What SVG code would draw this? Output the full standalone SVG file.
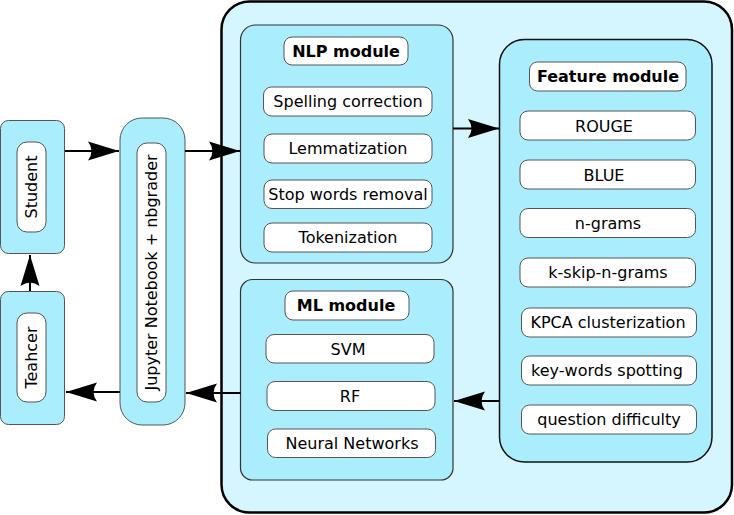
<svg xmlns="http://www.w3.org/2000/svg" width="734" height="515" viewBox="0 0 734 515">
<style>
.outer{fill:#d5f6ff;stroke:#000;stroke-width:2.5}
.mod{fill:#aaeefe;stroke:#333;stroke-width:1.2}
.blk{fill:#aaeefe;stroke:#555;stroke-width:1}
.item{fill:#fff;stroke:#555;stroke-width:1}
text{font-family:"DejaVu Sans",sans-serif;font-size:16px;fill:#000;text-anchor:middle;dominant-baseline:central}
.b{font-weight:bold}
.conn{stroke:#000;stroke-width:2;fill:none}
</style>
<defs>
<marker id="arr" markerUnits="userSpaceOnUse" markerWidth="34" markerHeight="22" viewBox="-33 -11 34 22" refX="0" refY="0" orient="auto" overflow="visible">
<path d="M0,0 L-31,-9.5 Q-24,0 -31,9.5 Z" fill="#000"/>
</marker>
</defs>
<g id="system"><rect class="outer" x="221.5" y="1.5" width="510.5" height="511" rx="28"/></g>
<g id="student">
<rect class="blk" x="0.5" y="120.5" width="64" height="133" rx="8"/>
<rect class="item" x="17" y="142" width="29" height="90" rx="10"/>
<text transform="translate(31.5,187) rotate(-90)">Student</text>
</g>
<g id="teacher">
<rect class="blk" x="0.5" y="291.5" width="64" height="133" rx="8"/>
<rect class="item" x="17" y="313" width="29" height="89" rx="10"/>
<text transform="translate(31.5,357.5) rotate(-90)">Teahcer</text>
</g>
<g id="jupyter">
<rect class="blk" x="120" y="118" width="65" height="307" rx="22"/>
<rect class="item" x="137" y="143" width="29" height="259" rx="10"/>
<text transform="translate(151.5,272.5) rotate(-90)">Jupyter Notebook + nbgrader</text>
</g>
<g id="nlp">
<rect class="mod" x="240.5" y="25" width="212.5" height="238" rx="15"/>
<rect class="item" x="284" y="37" width="124" height="28" rx="8"/>
<text class="b" x="346" y="51">NLP module</text>
<rect class="item" x="263.5" y="87" width="168.5" height="29" rx="8"/>
<text x="348" y="101">Spelling correction</text>
<rect class="item" x="264" y="134" width="168" height="29" rx="8"/>
<text x="348" y="148.5">Lemmatization</text>
<rect class="item" x="264" y="180" width="168" height="28.5" rx="8"/>
<text x="348" y="194">Stop words removal</text>
<rect class="item" x="264" y="223" width="168" height="29" rx="8"/>
<text x="348" y="237">Tokenization</text>
</g>
<g id="feature">
<rect class="mod" x="499.5" y="39.5" width="212.5" height="422.5" rx="25" style="stroke:#111;stroke-width:1.5"/>
<rect class="item" x="529.5" y="62" width="156.5" height="29" rx="8"/>
<text class="b" x="608" y="76">Feature module</text>
<rect class="item" x="520" y="111" width="175.5" height="29" rx="8"/>
<text x="604" y="126">ROUGE</text>
<rect class="item" x="520" y="160" width="175.5" height="29" rx="8"/>
<text x="604" y="175">BLUE</text>
<rect class="item" x="520" y="208.5" width="175.5" height="29" rx="8"/>
<text x="608" y="223">n-grams</text>
<rect class="item" x="520" y="258" width="175.5" height="29" rx="8"/>
<text x="608" y="272">k-skip-n-grams</text>
<rect class="item" x="521.5" y="308" width="175" height="29" rx="8"/>
<text x="608" y="322">KPCA clusterization</text>
<rect class="item" x="521.5" y="356" width="175" height="29" rx="8"/>
<text x="607" y="370.5">key-words spotting</text>
<rect class="item" x="521.5" y="405" width="175" height="29" rx="8"/>
<text x="609" y="419">question difficulty</text>
</g>
<g id="ml">
<rect class="mod" x="240.5" y="279.5" width="212.5" height="200.5" rx="12"/>
<rect class="item" x="285" y="291" width="124" height="29" rx="8"/>
<text class="b" x="346" y="305">ML module</text>
<rect class="item" x="266" y="334.5" width="168" height="28.5" rx="8"/>
<text x="348" y="349">SVM</text>
<rect class="item" x="267" y="381.5" width="168" height="29" rx="8"/>
<text x="350" y="396">RF</text>
<rect class="item" x="267.5" y="429" width="168" height="28.5" rx="8"/>
<text x="352" y="443">Neural Networks</text>
</g>
<g id="connectors">
<path class="conn" d="M65,151 H119" marker-end="url(#arr)"/>
<path class="conn" d="M185,151 H240" marker-end="url(#arr)"/>
<path class="conn" d="M453,128.5 H499" marker-end="url(#arr)"/>
<path class="conn" d="M499.5,401 H454" marker-end="url(#arr)"/>
<path class="conn" d="M240.5,393 H186" marker-end="url(#arr)"/>
<path class="conn" d="M120,392 H66" marker-end="url(#arr)"/>
<path class="conn" d="M30,291 V255" marker-end="url(#arr)"/>
</g>
</svg>
